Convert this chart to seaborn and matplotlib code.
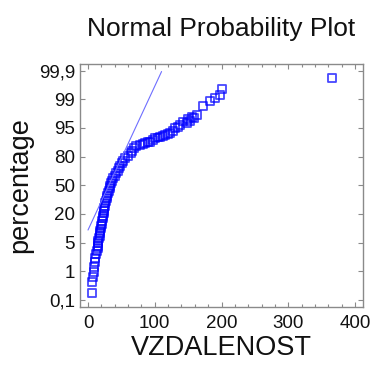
import numpy as np
import pandas as pd
import matplotlib
matplotlib.use("Agg")
import matplotlib.pyplot as plt
import seaborn as sns
from matplotlib.ticker import MultipleLocator

# ---- data (VZDALENOST value, cumulative percentage) ----
vzdalenost = [
    6.0, 6.5, 7.5, 8.3, 9.0, 9.8, 10.5, 11.3,
    13.7, 14.3, 14.9, 15.3, 15.6, 16.4, 17.3, 17.9, 18.5, 19.2,
    20.1, 20.9, 21.6, 22.2, 23.0, 23.6, 24.0, 24.5, 24.9, 25.7,
    26.6, 27.8, 28.8, 30.0, 31.1, 32.3, 33.6, 35.0, 36.3, 38.0,
    40.1, 42.2, 44.3, 46.5, 48.6, 50.9, 53.1, 55.8, 60.6, 63.9,
    66.5, 69.2, 72.0,
    78.0, 81.8, 85.5, 89.3, 93.0, 96.8, 100.5, 104.3, 108.0, 111.8,
    115.5, 119.3, 123.0, 126.8, 130.5, 134.3, 138.0, 142.5, 148.0,
    150.0, 153.0, 156.0, 159.0, 163.5, 173.0, 183.0, 190.5, 198.0,
    200.5, 365.5,
]
percentage = [
    0.32, 0.67, 0.82, 0.98, 1.6, 2.3, 2.9, 3.4,
    3.84, 4.19, 4.54, 4.89, 5.88, 7.19, 8.5, 9.8, 11.1, 12.4,
    13.7, 15.0, 16.3, 17.7, 19.0, 20.5, 23.2, 25.8, 28.4, 31.0,
    33.6, 36.3, 38.9, 41.5, 44.1, 46.7, 49.3, 52.0, 54.6, 57.2,
    59.8, 62.4, 65.0, 67.6, 70.3, 72.9, 75.5, 78.1, 80.4, 81.7,
    83.0, 84.3, 85.6,
    86.1, 86.6, 87.0, 87.4, 87.8, 88.7, 89.6, 90.0, 90.5, 90.9,
    91.4, 91.9, 92.2, 93.5, 94.9, 95.2, 95.4, 95.9, 95.7,
    96.3, 96.0, 96.5, 96.4, 96.8, 98.0, 98.7, 99.03, 99.14,
    99.32, 99.66,
]

# fitted normal reference line (end points)
line_x = [0.0, 110.2]
line_pct = [11.6, 99.87]

# probability axis levels and labels
prob_levels = [0.1, 1, 5, 20, 50, 80, 95, 99, 99.9]
prob_labels = ["0,1", "1", "5", "20", "50", "80", "95", "99", "99,9"]
x_ticks = [0, 100, 200, 300, 400]

# ---- style ----
sns.set_style("ticks")
plt.rcParams["font.family"] = ["Liberation Sans", "DejaVu Sans"]

fig = plt.figure(figsize=(3.73, 3.67), dpi=100)
ax = fig.add_axes([80 / 373, 1 - 307 / 367, (363 - 80) / 373, (307 - 64) / 367])

level_pos = np.arange(len(prob_levels))


def to_pos(p):
    return np.interp(p, prob_levels, level_pos)


df = pd.DataFrame({"x": vzdalenost, "y": to_pos(np.array(percentage))})
ldf = pd.DataFrame({"x": line_x, "y": to_pos(np.array(line_pct))})

sns.lineplot(data=ldf, x="x", y="y", color="#6e6eff", linewidth=0.8, ax=ax)
sns.scatterplot(data=df, x="x", y="y", marker="s", s=33, alpha=0.72,
                facecolor="none", edgecolor="#0000ff", linewidth=1.3, ax=ax)

ax.set_xlim(-12, 412)
ax.set_ylim(-0.244, 8.23)
ax.set_xticks(x_ticks)
ax.xaxis.set_minor_locator(MultipleLocator(20))
ax.set_yticks(level_pos)
ax.set_yticklabels(prob_labels)

gray = "#8a8a8a"
for sp in ax.spines.values():
    sp.set_visible(True)
    sp.set_color(gray)
    sp.set_linewidth(1.0)
ax.tick_params(which="both", direction="in", top=True, right=True,
               color=gray, width=0.8)
ax.tick_params(which="major", length=3.5, labelsize=13.5, labelcolor="#111111")
ax.tick_params(which="minor", length=2.5)
ax.tick_params(axis="y", which="major", pad=3.5)
ax.tick_params(axis="x", which="major", pad=6)

ax.set_xlabel("VZDALENOST", fontsize=19.5, color="#111111", labelpad=2)
ax.set_ylabel("percentage", fontsize=19.5, color="#111111", labelpad=4)
ax.set_title("Normal Probability Plot", fontsize=19, color="#111111", pad=20)

fig.savefig("out.png", dpi=100)
